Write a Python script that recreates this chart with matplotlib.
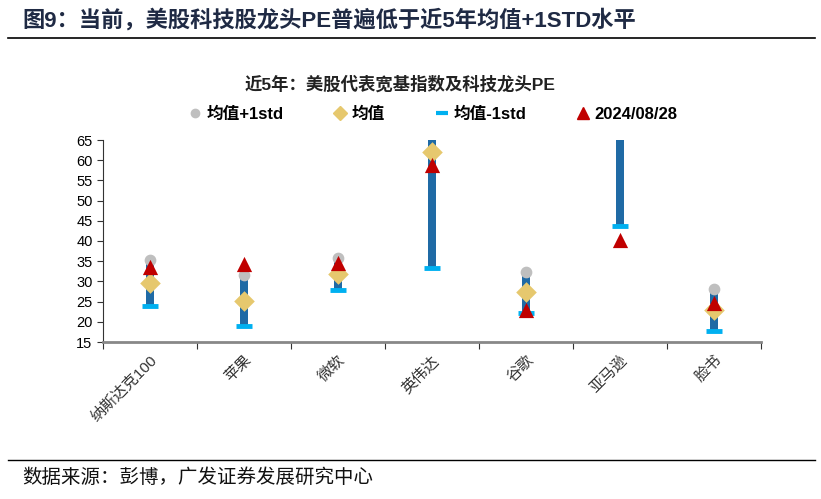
import matplotlib
matplotlib.use("Agg")
import matplotlib.pyplot as plt
from matplotlib.lines import Line2D

plt.rcParams['font.family'] = ['Liberation Sans', 'Noto Sans CJK SC']

categories = ['纳斯达克100', '苹果', '微软', '英伟达', '谷歌', '亚马逊', '脸书']
mean = [29.5, 25.1, 31.8, 62.1, 27.3, 75.0, 22.9]
upper = [35.2, 31.6, 35.9, 90.8, 32.3, 106.4, 28.2]   # 均值+1std
lower = [24.0, 19.0, 27.9, 33.4, 22.3, 43.6, 17.6]    # 均值-1std
current = [33.6, 34.4, 34.5, 58.7, 22.9, 40.3, 24.6]  # 2024/08/28
yticks = [15, 20, 25, 30, 35, 40, 45, 50, 55, 60, 65]

c_bar = '#1F6AA5'
c_up = '#BFBFBF'
c_mean = '#E6C86E'
c_low = '#00B0F0'
c_cur = '#C00000'

fig = plt.figure(figsize=(8.21, 4.99), dpi=100)
ax = fig.add_axes([103 / 821, 1 - 342 / 499, 658 / 821, 202 / 499])

x = list(range(len(categories)))
heights = [u - l for u, l in zip(upper, lower)]
ax.bar(x, heights, bottom=lower, width=0.085, color=c_bar, zorder=2)
ax.scatter(x, upper, s=55, marker='o', color=c_up, zorder=3)
ax.scatter(x, mean, s=110, marker='D', color=c_mean, zorder=4, linewidths=0)
ax.scatter(x, lower, s=130, marker='_', color=c_low, linewidths=3.5, zorder=3)
ax.scatter(x, current, s=120, marker='^', color=c_cur, zorder=5, linewidths=0)

ax.set_xlim(-0.5, len(categories) - 0.5)
ax.set_ylim(15, 65)
ax.set_yticks(yticks)
ax.set_yticklabels([str(v) for v in yticks], fontsize=10.5)
ax.set_xticks([i - 0.5 for i in range(len(categories) + 1)])
ax.set_xticklabels([])
ax.set_xticks(x, minor=True)
ax.set_xticklabels(categories, minor=True, rotation=45, ha='right', va='top',
                   fontsize=11, color='#333333', rotation_mode='anchor')
ax.tick_params(axis='x', which='minor', length=0, pad=8)
ax.tick_params(axis='x', which='major', length=5, color='#333333')
ax.tick_params(axis='y', length=4, color='#333333')
for s in ['top', 'right']:
    ax.spines[s].set_visible(False)
ax.spines['bottom'].set_color('#888888')
ax.spines['bottom'].set_linewidth(2)
ax.spines['left'].set_color('#333333')

handles = [
    Line2D([], [], marker='o', color=c_up, linestyle='none', markersize=6),
    Line2D([], [], marker='D', color=c_mean, linestyle='none', markersize=7),
    Line2D([], [], marker='_', color=c_low, linestyle='none', markersize=9, markeredgewidth=3),
    Line2D([], [], marker='^', color=c_cur, linestyle='none', markersize=9),
]
labels = ['均值+1std', '均值', '均值-1std', '2024/08/28']
fig.legend(handles, labels, loc='center', bbox_to_anchor=(433 / 821, 1 - 114 / 499),
           ncol=4, frameon=False, handlelength=0.8, handletextpad=0.3, columnspacing=3.0,
           prop={'weight': 'bold', 'size': 12})

fig.text(400 / 821, 1 - 84 / 499, '近5年：美股代表宽基指数及科技龙头PE',
         ha='center', va='center', fontsize=12.5, fontweight='bold', color='#222222')

fig.text(22 / 821, 1 - 20 / 499, '图9：当前，美股科技股龙头PE普遍低于近5年均值+1STD水平',
         ha='left', va='center', fontsize=16, fontweight='bold', color='#1F2A44')
fig.add_artist(Line2D([8 / 821, 815 / 821], [1 - 38 / 499, 1 - 38 / 499],
                      color='black', linewidth=1.2))
fig.add_artist(Line2D([8 / 821, 815 / 821], [1 - 460 / 499, 1 - 460 / 499],
                      color='black', linewidth=1.0))
fig.text(22 / 821, 1 - 478 / 499, '数据来源：彭博，广发证券发展研究中心',
         ha='left', va='center', fontsize=14, color='#111111')

fig.savefig('out.png', dpi=100)
